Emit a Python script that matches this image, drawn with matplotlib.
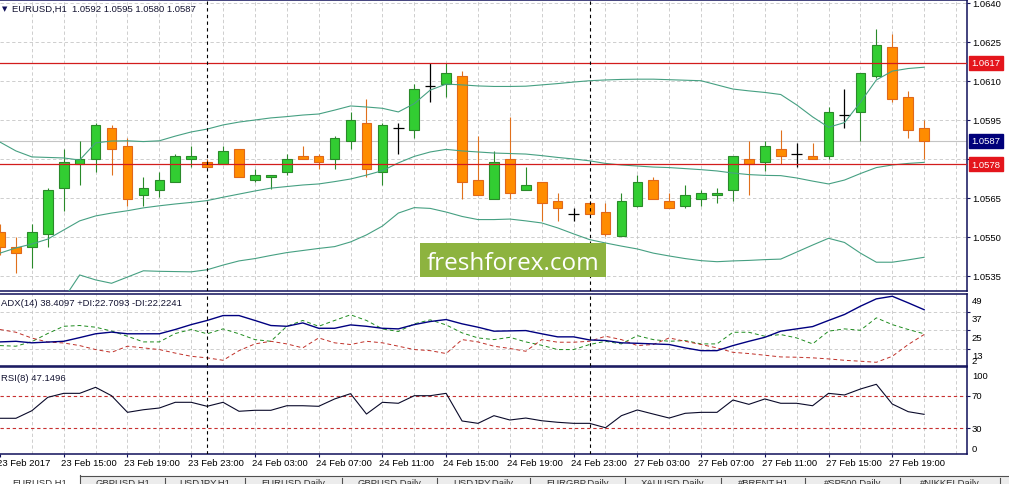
import numpy as np
import pandas as pd
import matplotlib
matplotlib.use('Agg')
import matplotlib.pyplot as plt
import matplotlib.transforms as mtransforms
from matplotlib.patches import Rectangle

# --- EURUSD H1 bars, 23 Feb 11:00 .. 27 Feb 21:00 ---
opens = [1.0552, 1.0546, 1.0546, 1.0551, 1.0569, 1.0578, 1.0580, 1.0592, 1.0585, 1.0566,
         1.0568, 1.0571, 1.0580, 1.0579, 1.0578, 1.0584, 1.0572, 1.0573, 1.0575, 1.0581,
         1.0581, 1.0580, 1.0587, 1.0594, 1.0575, 1.0592, 1.0591, 1.0608, 1.0609, 1.0612,
         1.0572, 1.05645, 1.0580, 1.0568, 1.0571, 1.0564, 1.0559, 1.0563, 1.05595, 1.05505,
         1.0562, 1.0572, 1.0564, 1.0562, 1.05645, 1.0566, 1.0568, 1.0580, 1.0579, 1.0584,
         1.0582, 1.0581, 1.0581, 1.0597, 1.0598, 1.0612, 1.0623, 1.0604, 1.0592]
highs = [1.0555, 1.0550, 1.0555, 1.0569, 1.0584, 1.0587, 1.0594, 1.0593, 1.0588, 1.0573,
         1.0575, 1.0582, 1.0585, 1.0580, 1.0585, 1.0584, 1.0576, 1.0574, 1.0582, 1.0585,
         1.0582, 1.0589, 1.0598, 1.0603, 1.0594, 1.0594, 1.0609, 1.0617, 1.0617, 1.0614,
         1.0589, 1.0583, 1.0596, 1.0577, 1.0571, 1.0567, 1.0561, 1.0564, 1.0563, 1.0567,
         1.0574, 1.0573, 1.0567, 1.0570, 1.0568, 1.0569, 1.0581, 1.0587, 1.0587, 1.0591,
         1.0586, 1.0586, 1.0600, 1.0607, 1.0613, 1.0630, 1.0628, 1.0606, 1.0595]
lows = [1.0543, 1.0536, 1.0538, 1.0546, 1.0560, 1.0570, 1.0575, 1.0574, 1.0562, 1.0562,
        1.05655, 1.0571, 1.0577, 1.0577, 1.0578, 1.0573, 1.0571, 1.05685, 1.0574, 1.0580,
        1.0576, 1.0576, 1.0584, 1.0573, 1.0570, 1.0582, 1.0588, 1.0602, 1.0604, 1.05645,
        1.0566, 1.05645, 1.05645, 1.0568, 1.0556, 1.0556, 1.0556, 1.0559, 1.05505, 1.05505,
        1.05615, 1.05645, 1.0561, 1.0561, 1.0562, 1.0563, 1.0564, 1.0566, 1.05755, 1.0578,
        1.0577, 1.0580, 1.0580, 1.0592, 1.0587, 1.0611, 1.0602, 1.0588, 1.0580]
closes = [1.0546, 1.0544, 1.0552, 1.0568, 1.0579, 1.0580, 1.0593, 1.0584, 1.05645, 1.0569,
          1.0572, 1.0581, 1.0581, 1.0577, 1.0583, 1.0573, 1.0574, 1.0574, 1.0580, 1.0580,
          1.0579, 1.0588, 1.0595, 1.0576, 1.0593, 1.0592, 1.0607, 1.0608, 1.0613, 1.0571,
          1.0566, 1.0579, 1.0567, 1.0570, 1.0563, 1.0561, 1.0559, 1.0559, 1.0551, 1.0564,
          1.0571, 1.05645, 1.0561, 1.0566, 1.0567, 1.0567, 1.0581, 1.0578, 1.0585, 1.0581,
          1.0582, 1.0580, 1.0598, 1.0597, 1.0613, 1.0624, 1.0603, 1.0591, 1.0587]

# Bollinger bands
bb_upper = [1.05865, 1.05831, 1.05808, 1.05806, 1.05804, 1.05796, 1.05862, 1.05869, 1.05870, 1.05867,
            1.05870, 1.05888, 1.05904, 1.05915, 1.05931, 1.05942, 1.05950, 1.05958, 1.05963, 1.05969,
            1.05973, 1.05988, 1.06004, 1.06000, 1.05995, 1.05981, 1.06013, 1.06065, 1.06088, 1.06085,
            1.06081, 1.06079, 1.06079, 1.06080, 1.06085, 1.06090, 1.06096, 1.06101, 1.06104, 1.06106,
            1.06107, 1.06107, 1.06105, 1.06103, 1.06101, 1.06085, 1.06069, 1.06062, 1.06056, 1.06048,
            1.06008, 1.05962, 1.05922, 1.05940, 1.06018, 1.06104, 1.06138, 1.06148, 1.06153]
bb_middle = [1.05438, 1.05458, 1.05473, 1.05492, 1.05527, 1.05562, 1.05581, 1.05592, 1.05601, 1.05612,
             1.05620, 1.05627, 1.05633, 1.05640, 1.05653, 1.05665, 1.05677, 1.05688, 1.05694, 1.05700,
             1.05704, 1.05713, 1.05723, 1.05738, 1.05755, 1.05785, 1.05810, 1.05827, 1.05837, 1.05831,
             1.05827, 1.05823, 1.05821, 1.05819, 1.05813, 1.05806, 1.05800, 1.05793, 1.05783, 1.05777,
             1.05773, 1.05769, 1.05767, 1.05763, 1.05759, 1.05754, 1.05746, 1.05740, 1.05737, 1.05736,
             1.05727, 1.05715, 1.05704, 1.05719, 1.05744, 1.05767, 1.05777, 1.05783, 1.05787]
bb_lower = [1.05215, 1.05208, 1.05212, 1.05223, 1.05262, 1.05354, 1.05335, 1.05322, 1.05346, 1.05370,
            1.05368, 1.05367, 1.05366, 1.05374, 1.05392, 1.05408, 1.05417, 1.05429, 1.05440, 1.05448,
            1.05456, 1.05463, 1.05481, 1.05508, 1.05542, 1.05592, 1.05613, 1.05610, 1.05596, 1.05579,
            1.05567, 1.05567, 1.05569, 1.05562, 1.05554, 1.05535, 1.05512, 1.05490, 1.05477, 1.05465,
            1.05454, 1.05438, 1.05427, 1.05417, 1.05409, 1.05405, 1.05408, 1.05410, 1.05413, 1.05415,
            1.05442, 1.05469, 1.05495, 1.05479, 1.05438, 1.05403, 1.05403, 1.05412, 1.05422]

# ADX(14)
adx = [17.4, 17.8, 16.8, 17.3, 17.8, 20.2, 22.7, 23.8, 22.7, 22.7,
       22.7, 25.5, 28.7, 31.4, 34.6, 34.6, 31.4, 28.1, 27.6, 29.8,
       26.3, 26.3, 28.5, 27.6, 26.3, 25.9, 28.7, 30.7, 32.0, 29.2,
       27.0, 24.4, 24.6, 24.8, 22.7, 20.7, 20.7, 18.7, 18.3, 16.8,
       16.5, 16.1, 15.7, 13.5, 11.7, 11.7, 15.0, 17.8, 20.4, 24.4,
       25.9, 27.4, 31.4, 35.3, 40.7, 45.5, 47.2, 42.9, 38.41]
plus_di = [15.0, 14.6, 17.6, 22.9, 27.6, 28.1, 27.0, 24.5, 21.1, 17.4,
           17.4, 22.9, 25.5, 22.7, 25.9, 22.7, 18.9, 17.8, 27.6, 31.4,
           27.6, 31.4, 35.1, 31.4, 25.9, 24.2, 29.2, 31.8, 28.5, 23.3,
           20.0, 18.9, 20.4, 17.4, 15.2, 12.4, 12.4, 15.7, 17.8, 16.1,
           21.5, 18.9, 17.8, 18.3, 16.1, 16.1, 23.7, 23.7, 21.1, 22.2,
           20.0, 16.1, 24.4, 25.9, 25.0, 33.1, 28.7, 25.5, 22.71]
minus_di = [25.5, 23.7, 19.9, 17.3, 16.7, 15.0, 12.4, 10.6, 14.6, 13.5,
            12.4, 10.1, 8.0, 7.0, 5.4, 11.7, 16.1, 17.8, 16.1, 13.5,
            20.0, 16.8, 15.7, 17.8, 16.8, 14.6, 12.4, 11.7, 9.8, 18.9,
            17.4, 14.6, 13.1, 11.3, 18.9, 17.2, 17.2, 17.8, 21.1, 18.9,
            15.0, 15.7, 20.0, 17.8, 15.7, 13.5, 10.6, 9.8, 8.7, 7.6,
            7.4, 7.0, 6.3, 5.4, 4.8, 4.1, 8.0, 15.7, 22.22]

# RSI(8)
rsi = [42.3, 42.3, 51.6, 68.0, 72.9, 72.9, 80.3, 70.0, 49.6, 52.8,
       54.9, 61.9, 61.9, 57.0, 61.9, 50.9, 52.1, 52.1, 57.7, 57.7,
       57.0, 66.0, 72.5, 47.5, 61.9, 60.7, 70.0, 70.0, 72.9, 39.0,
       36.1, 45.5, 40.2, 42.6, 39.3, 37.4, 36.1, 36.1, 30.7, 45.5,
       52.5, 47.5, 42.6, 48.4, 49.6, 49.6, 64.7, 59.4, 66.0, 60.7,
       60.7, 57.7, 72.9, 70.9, 78.2, 84.0, 59.8, 50.4, 47.15]

price_ticks = [1.0535, 1.0550, 1.0565, 1.0580, 1.0595, 1.0610, 1.0625, 1.0640]
resistance = 1.0617
support = 1.0578
bid = 1.0587
adx_ticks = [49, 37, 25, 13]
adx_min = 2
rsi_levels = [70, 30]
adx_title = 'ADX(14) 38.4097 +DI:22.7093 -DI:22.2241'
rsi_title = 'RSI(8) 47.1496'
tab_names = ['EURUSD,H1', 'GBPUSD,H1', 'USDJPY,H1', 'EURUSD,Daily', 'GBPUSD,Daily',
             'USDJPY,Daily', 'EURGBP,Daily', 'XAUUSD,Daily', '#BRENT,H1', '#SP500,Daily',
             '#NIKKEI,Daily']

times = list(pd.date_range('2017-02-23 11:00', '2017-02-24 23:00', freq='h')) + \
        list(pd.date_range('2017-02-27 00:00', '2017-02-27 21:00', freq='h'))

plt.rcParams['font.family'] = ['Liberation Sans', 'DejaVu Sans']

W, H = 1009, 485
NAVY = '#10105a'
GRID = '#c6c6c6'
FS = 6.8


def box(left, top, right, bottom):
    return [left / W, 1 - bottom / H, (right - left) / W, (bottom - top) / H]


fig = plt.figure(figsize=(W / 100, H / 100), dpi=100, facecolor='white')
ax = fig.add_axes(box(0, 1, 967, 292))
ax_adx = fig.add_axes(box(0, 294.5, 967, 366.5), sharex=ax)
ax_rsi = fig.add_axes(box(0, 368, 967, 455), sharex=ax)

x = np.arange(len(opens))
o, h, l, c = (np.array(v) for v in (opens, highs, lows, closes))
day_breaks = [i for i in range(1, len(times)) if times[i].date() != times[i - 1].date()]
label_pos = list(range(0, len(times), 4))

for a in (ax, ax_adx, ax_rsi):
    a.set_facecolor('white')
    for s in a.spines.values():
        s.set_color(NAVY)
        s.set_linewidth(1.1)
    a.spines['left'].set_visible(False)
    a.yaxis.tick_right()
    a.tick_params(axis='y', direction='out', length=2, width=0.8, color=NAVY,
                  pad=2, labelsize=FS, labelcolor='black')
    a.tick_params(axis='x', bottom=False, labelbottom=False)
    for xv in range(2, 62, 2):
        a.axvline(xv, color=GRID, lw=0.6, ls=(0, (4, 3)), zorder=0.5)
    for d in day_breaks:
        a.axvline(d, color='black', lw=0.8, ls=(0, (3, 3)), zorder=6)

ax.set_xlim(0.25, 60.69)

# --- main price pane ---
ax.set_ylim(1.052923, 1.064115)
ax.set_yticks(price_ticks)
ax.set_yticklabels([f'{p:.4f}' for p in price_ticks])
for p in price_ticks:
    ax.axhline(p, color=GRID, lw=0.6, ls=(0, (4, 3)), zorder=0.5)
ax.axhline(bid, color='#c4c4c4', lw=0.8, zorder=1)

up, down, flat = c > o, c < o, c == o
ax.vlines(x[up], l[up], h[up], color='#2a8a2a', lw=0.8, zorder=3)
ax.bar(x[up], (c - o)[up], bottom=o[up], width=0.6, color='#32cd32',
       edgecolor='#2a8a2a', lw=0.8, zorder=3.1)
ax.vlines(x[down], l[down], h[down], color='#e0701c', lw=0.8, zorder=3)
ax.bar(x[down], (o - c)[down], bottom=c[down], width=0.6, color='#ff8c00',
       edgecolor='#e0681a', lw=0.8, zorder=3.1)
ax.vlines(x[flat], l[flat], h[flat], color='black', lw=0.9, zorder=3)
ax.hlines(c[flat], x[flat] - 0.33, x[flat] + 0.33, color='black', lw=0.9, zorder=3)

for band in (bb_upper, bb_middle, bb_lower):
    ax.plot(x, band, color='#46a082', lw=0.8, zorder=4)

ax.axhline(resistance, color='#d21c1c', lw=0.9, zorder=5)
ax.axhline(support, color='#d21c1c', lw=0.9, zorder=5)

ytr = ax.get_yaxis_transform()
for val, col in ((resistance, '#e4151c'), (support, '#e4151c'), (bid, '#00007a')):
    ax.text(1.0046, val, f'{val:.4f}', transform=ytr, ha='left', va='center',
            color='white', fontsize=FS, clip_on=False, zorder=10,
            bbox=dict(boxstyle='square,pad=0.25', fc=col, ec=col))

fig.text(2 / W, 1 - 9 / H, '\u25bc', family='DejaVu Sans', fontsize=5,
         color=NAVY, va='center')
fig.text(12 / W, 1 - 9 / H,
         f'EURUSD,H1  {opens[-1]:.4f} {highs[-1]:.4f} {lows[-1]:.4f} {closes[-1]:.4f}',
         fontsize=FS, color='#141432', va='center')

# --- ADX pane ---
ax_adx.set_ylim(adx_min, 49)
ax_adx.set_yticks(adx_ticks[1:])
ax_adx.set_yticklabels([])
for v in adx_ticks[1:]:
    ax_adx.axhline(v, color=GRID, lw=0.6, ls=(0, (4, 3)), zorder=0.5)
ax_adx.plot(x, plus_di, color='#1e8c1e', lw=0.7, ls=(0, (4, 3)), zorder=3)
ax_adx.plot(x, minus_di, color='#c03028', lw=0.7, ls=(0, (4, 3)), zorder=3)
ax_adx.plot(x, adx, color='#000080', lw=1.0, zorder=4)
atr = mtransforms.offset_copy(ax_adx.get_yaxis_transform(), fig=fig, x=0, y=-2.5, units='dots')
for v in adx_ticks:
    ax_adx.text(1.005, v, str(v), transform=atr, ha='left', va='top', fontsize=FS, clip_on=False)
ax_adx.text(1.005, adx_min, str(adx_min), transform=ax_adx.get_yaxis_transform(),
            ha='left', va='bottom', fontsize=FS, clip_on=False)
ax_adx.text(0.001, 0.87, adx_title, transform=ax_adx.transAxes, fontsize=FS,
            color='#141432', va='center')

# --- RSI pane ---
ax_rsi.set_ylim(-1.5, 105.2)
ax_rsi.set_yticks(rsi_levels)
ax_rsi.set_yticklabels([])
for v in rsi_levels:
    ax_rsi.axhline(v, color='#c83030', lw=0.8, ls=(0, (3, 2.5)), zorder=1)
ax_rsi.plot(x, rsi, color='#0a0a2a', lw=0.8, zorder=4)
rtr = ax_rsi.get_yaxis_transform()
ax_rsi.text(1.005, 100, '100', transform=rtr, ha='left', va='top', fontsize=FS, clip_on=False)
for v in rsi_levels:
    ax_rsi.text(1.005, v, str(v), transform=rtr, ha='left', va='center', fontsize=FS, clip_on=False)
ax_rsi.text(1.005, 0, '0', transform=rtr, ha='left', va='bottom', fontsize=FS, clip_on=False)
ax_rsi.text(0.001, 0.88, rsi_title, transform=ax_rsi.transAxes, fontsize=FS,
            color='#141432', va='center')

# time axis
ax_rsi.set_xticks(label_pos)
ax_rsi.tick_params(axis='x', bottom=True, length=2.5, width=0.8, color=NAVY, labelbottom=False)
ttr = mtransforms.offset_copy(
    mtransforms.blended_transform_factory(ax_rsi.transData, fig.transFigure),
    fig=fig, x=-3, y=0, units='dots')
for i in label_pos:
    fmt = '%d %b %Y' if i == 0 else '%d %b %H:%M'
    ax_rsi.text(i, 1 - 464 / H, times[i].strftime(fmt), transform=ttr,
                ha='left', va='center', fontsize=FS, clip_on=False)

# --- watermark ---
fig.add_artist(Rectangle((420 / W, 1 - 278 / H), 186 / W, 34 / H, transform=fig.transFigure,
                         fc='#8db33f', ec='none', zorder=20))
fig.text(513 / W, 1 - 269.5 / H, 'freshforex.com', ha='center', va='baseline',
         color='white', fontsize=17.5, family='Open Sans', zorder=21)

# --- tab bar ---
fig.add_artist(Rectangle((0, 0), 1, 8.5 / H, transform=fig.transFigure,
                         fc='#ececec', ec='none', zorder=1))
fig.add_artist(Rectangle((0, 0), 80 / W, 8.5 / H, transform=fig.transFigure,
                         fc='white', ec='none', zorder=2))
fig.add_artist(plt.Line2D([80 / W, 1], [1 - 477 / H] * 2, transform=fig.transFigure,
                          color='#505050', lw=0.8, zorder=3))
seps = [0, 80, 165, 245, 342, 437, 530, 625, 721, 805, 900, 1000]
for k, name in enumerate(tab_names):
    fig.text((seps[k] + seps[k + 1]) / 2 / W, 1 - 479 / H, name, ha='center', va='top',
             fontsize=FS, color='#303030', zorder=4)
for s in seps[1:]:
    lo = 476 if s == 80 else 479
    fig.add_artist(plt.Line2D([s / W] * 2, [1 - lo / H, 0], transform=fig.transFigure,
                              color='#505050', lw=0.8, zorder=3))

fig.savefig('out.png', dpi=100, facecolor='white')
